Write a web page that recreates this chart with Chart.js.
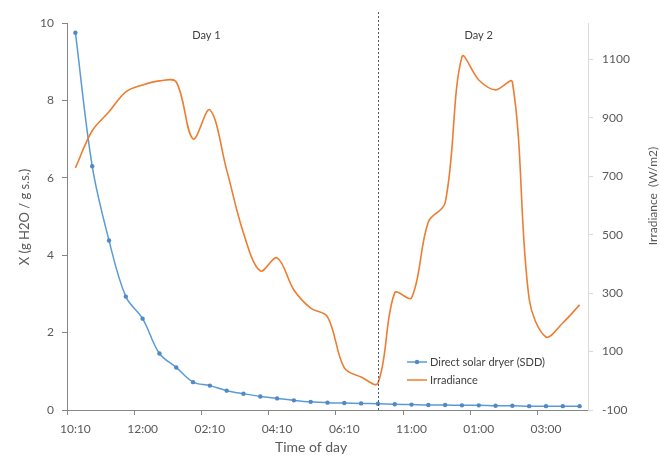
<!DOCTYPE html>
<html>
<head>
<meta charset="utf-8">
<script src="https://cdn.jsdelivr.net/npm/chart.js@4.4.1/dist/chart.umd.min.js"></script>
<style>
  html, body { margin: 0; padding: 0; background: #fff; }
  #wrap { position: relative; width: 660px; height: 460px; }
</style>
</head>
<body>
<div id="wrap"><canvas id="chart" width="660" height="460"></canvas></div>
<script>
// time labels shown on the x axis, one every 4 readings
const tickLabels = ['10:10', '12:00', '02:10', '04:10', '06:10', '11:00', '01:00', '03:00'];
const labelEvery = 4;

// moisture content X (g H2O / g s.s.) - direct solar dryer
const moisture = [9.75, 6.3, 4.38, 2.93, 2.36, 1.46, 1.1, 0.72, 0.63, 0.5, 0.42, 0.35, 0.3, 0.25, 0.21, 0.19,
  0.18, 0.17, 0.16, 0.15, 0.14, 0.13, 0.13, 0.12, 0.12, 0.11, 0.11, 0.1, 0.1, 0.1, 0.1];
// solar irradiance (W/m2)
const irradiance = [729, 856, 921, 989, 1013, 1027, 1023, 828, 928, 722, 506, 376, 421, 311, 249, 219,
  44, 13, -8, 301, 284, 544, 609, 1109, 1030, 996, 1023, 280, 150, 198, 260];

const moistureTicks = [0, 2, 4, 6, 8, 10];
const irrTicks = [-100, 100, 300, 500, 700, 900, 1100];
const dayLabels = ['Day 1', 'Day 2'];
const dayBreak = 18; // reading where day 2 starts

const categories = moisture.map((_, i) => i % labelEvery === 0 ? tickLabels[i / labelEvery] : '');

const BLUE = '#5b9bd5';
const ORANGE = '#ed7d31';
const FONT = 'Lato, "Open Sans", sans-serif';

const extras = {
  id: 'extras',
  afterDatasetsDraw(chart) {
    const { ctx, chartArea, scales } = chart;
    const x = scales.x;
    ctx.save();
    // day separator
    const bx = Math.round(x.getPixelForValue(dayBreak)) + 0.5;
    ctx.strokeStyle = '#4d5a6b';
    ctx.lineWidth = 1;
    ctx.setLineDash([2, 2]);
    ctx.beginPath();
    ctx.moveTo(bx, chartArea.top - 11);
    ctx.lineTo(bx, chartArea.bottom);
    ctx.stroke();
    ctx.setLineDash([]);

    // day captions
    ctx.fillStyle = '#404040';
    ctx.font = '11px ' + FONT;
    ctx.textAlign = 'center';
    ctx.textBaseline = 'middle';
    ctx.fillText(dayLabels[0], x.getPixelForValue(7.8), chartArea.top + 12);
    ctx.fillText(dayLabels[1], x.getPixelForValue(24), chartArea.top + 12);

    // legend
    const lx = 407, ly = 362;
    ctx.lineWidth = 1.5;
    ctx.strokeStyle = BLUE;
    ctx.beginPath(); ctx.moveTo(lx, ly); ctx.lineTo(lx + 20, ly); ctx.stroke();
    ctx.fillStyle = '#4f89c6';
    ctx.beginPath(); ctx.arc(lx + 10, ly, 2.2, 0, Math.PI * 2); ctx.fill();
    ctx.strokeStyle = ORANGE;
    ctx.beginPath(); ctx.moveTo(lx, ly + 18); ctx.lineTo(lx + 20, ly + 18); ctx.stroke();
    ctx.fillStyle = '#404040';
    ctx.textAlign = 'left';
    ctx.fillText('Direct solar dryer (SDD)', lx + 23, ly);
    ctx.fillText('Irradiance', lx + 23, ly + 18);

    // axis titles
    ctx.fillStyle = '#595959';
    ctx.textAlign = 'center';
    ctx.font = '14px ' + FONT;
    ctx.fillText('Time of day', 311, 447);
    ctx.font = '13px ' + FONT;
    ctx.save();
    ctx.translate(25, 217);
    ctx.rotate(-Math.PI / 2);
    ctx.fillText('X (g H2O / g s.s.)', 0, 0);
    ctx.restore();
    ctx.font = '12px ' + FONT;
    ctx.save();
    ctx.translate(653, 196);
    ctx.rotate(-Math.PI / 2);
    ctx.fillText('Irradiance  (W/m2)', 0, 0);
    ctx.restore();
    ctx.restore();
  }
};

new Chart(document.getElementById('chart'), {
  type: 'line',
  data: {
    labels: categories,
    datasets: [
      {
        label: 'Direct solar dryer (SDD)',
        data: moisture,
        yAxisID: 'y',
        borderColor: BLUE,
        borderWidth: 1.5,
        backgroundColor: '#4f89c6',
        pointRadius: 2.2,
        pointBorderWidth: 0,
        tension: 0.35,
        order: 1
      },
      {
        label: 'Irradiance',
        data: irradiance,
        yAxisID: 'y2',
        borderColor: ORANGE,
        borderWidth: 1.6,
        pointRadius: 0,
        tension: 0.35,
        order: 0
      }
    ]
  },
  options: {
    responsive: false,
    animation: false,
    layout: { padding: { top: 23, left: 0, right: 0, bottom: 0 } },
    plugins: { legend: { display: false }, tooltip: { enabled: false } },
    scales: {
      x: {
        offset: true,
        afterFit(scale) { scale.height = 50; },
        border: { color: '#868686' },
        grid: {
          offset: true,
          drawOnChartArea: false,
          tickLength: 5,
          color: c => (c.index % labelEvery === 0 && c.index < categories.length) ? '#868686' : 'rgba(0,0,0,0)'
        },
        ticks: {
          autoSkip: false,
          maxRotation: 0,
          padding: 7,
          color: '#595959',
          font: { family: FONT, size: 12 }
        }
      },
      y: {
        position: 'left',
        min: 0,
        max: 10,
        afterBuildTicks(scale) { scale.ticks = moistureTicks.map(v => ({ value: v })); },
        afterFit(scale) { scale.width = 67; },
        border: { color: '#868686' },
        grid: { drawOnChartArea: false, tickLength: 5, color: '#868686' },
        ticks: { padding: 8, color: '#595959', font: { family: FONT, size: 12 } }
      },
      y2: {
        position: 'right',
        min: -100,
        max: 1225,
        afterBuildTicks(scale) { scale.ticks = irrTicks.map(v => ({ value: v })); },
        afterFit(scale) { scale.width = 72; },
        border: { color: '#d9d9d9' },
        grid: { drawOnChartArea: false, tickLength: 5, color: '#d9d9d9' },
        ticks: {
          padding: 9,
          color: '#595959',
          font: { family: FONT, size: 12 },
          callback: v => String(v)
        }
      }
    }
  },
  plugins: [extras]
});
</script>
</body>
</html>
